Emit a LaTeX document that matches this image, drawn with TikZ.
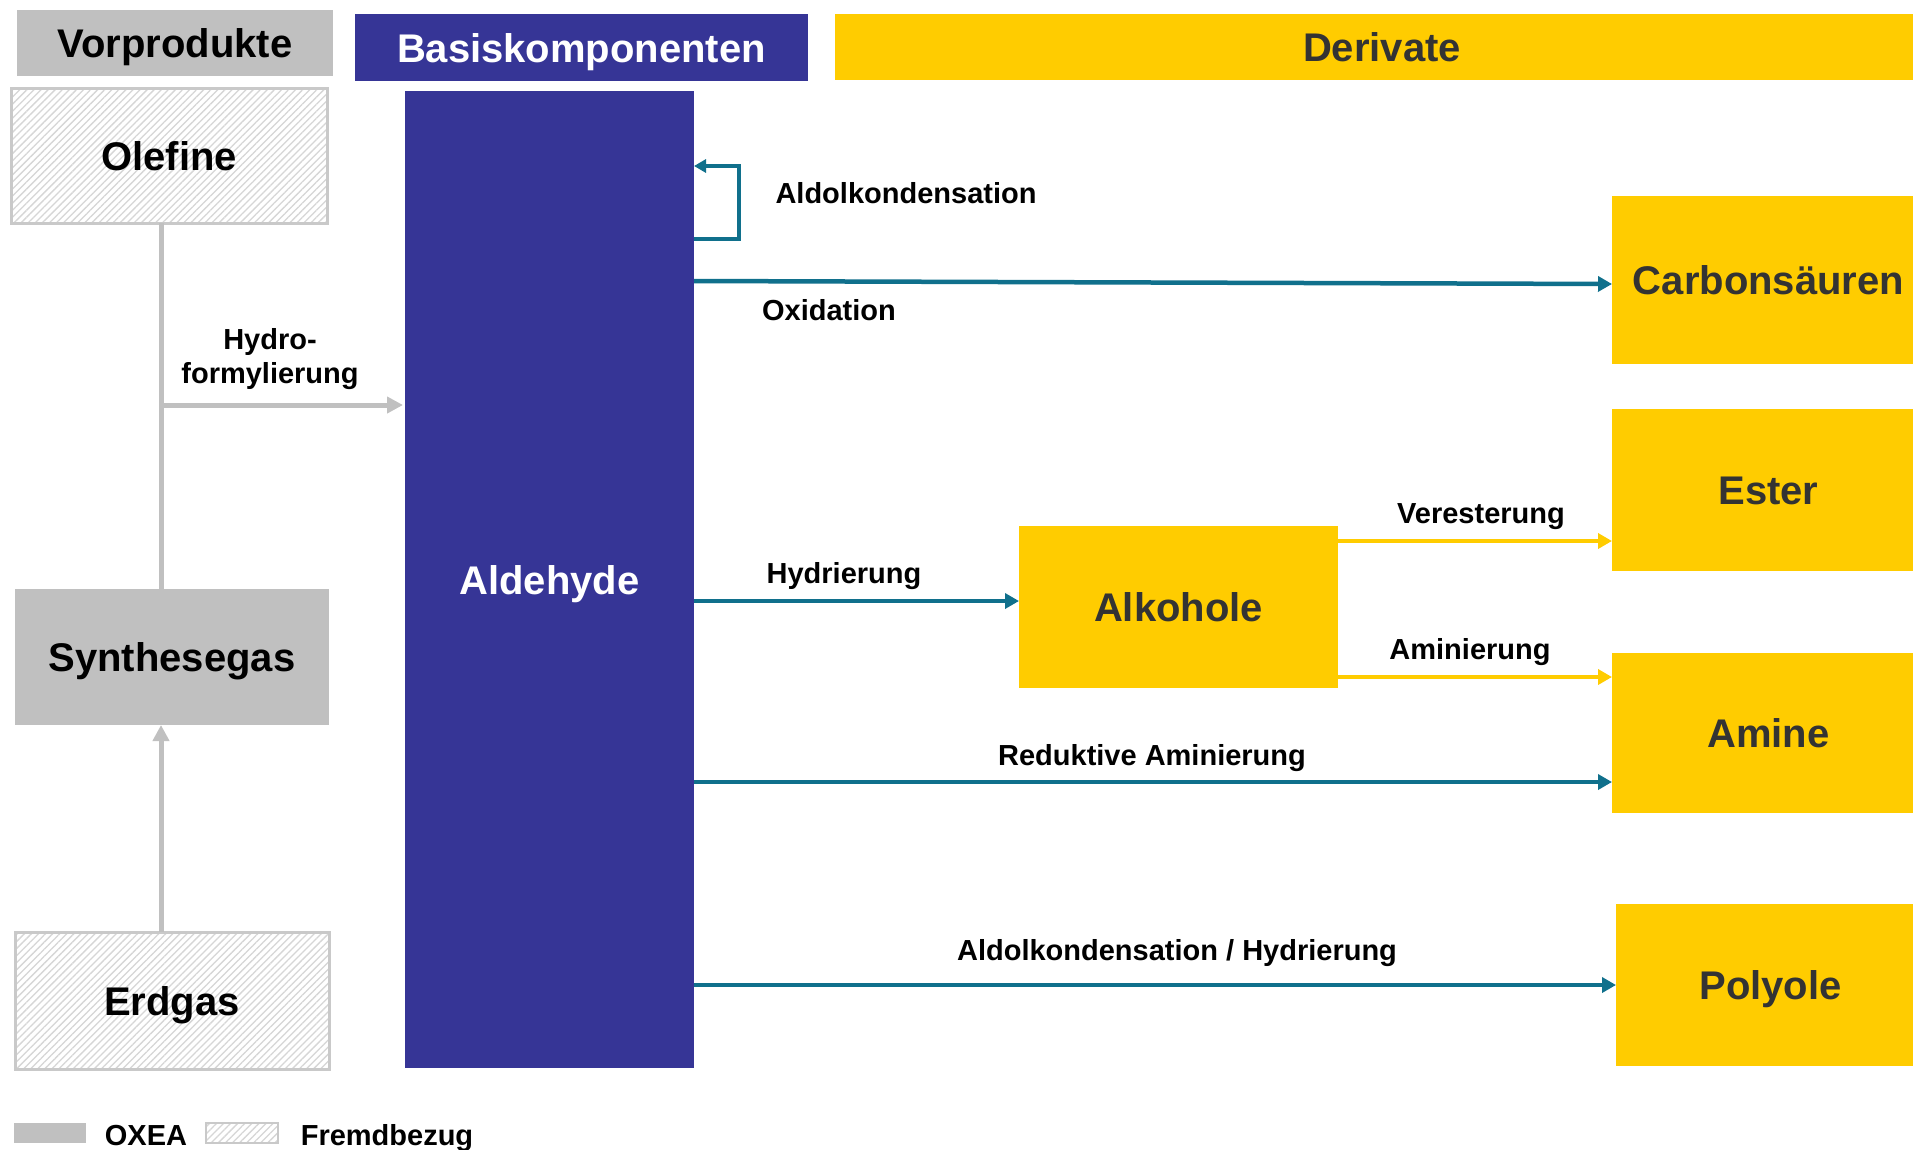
\documentclass[tikz,border=0pt]{standalone}
\usepackage{fontspec}
\setmainfont{Liberation Sans}
\usetikzlibrary{arrows.meta,patterns.meta}
\definecolor{oxblue}{RGB}{54,53,150}
\definecolor{oxyellow}{RGB}{255,204,0}
\definecolor{oxteal}{RGB}{16,112,140}
\definecolor{oxgrey}{RGB}{192,192,192}
\definecolor{oxtext}{RGB}{51,51,51}

\begin{document}
\begin{tikzpicture}[x=1pt,y=1pt,yscale=-1,xscale=1,
  bigfont/.style={font=\fontsize{40}{46}\selectfont\bfseries},
  smallfont/.style={font=\fontsize{29}{34}\selectfont\bfseries},
  box/.style={inner sep=0pt,outer sep=0pt,anchor=center,bigfont,text height=29pt,text depth=0pt},
  greybox/.style={box,fill=oxgrey},
  hatchbox/.style={box,draw=oxgrey!85,line width=3pt,pattern={Lines[angle=45,distance=5pt,line width=1.3pt]},pattern color=oxgrey!65},
  bluebox/.style={box,fill=oxblue,text=white},
  yellowbox/.style={box,fill=oxyellow,text=oxtext},
  legendbox/.style={text height=0pt,text depth=0pt,minimum width=72pt,minimum height=20pt},
  lbl/.style={smallfont,inner sep=0pt,align=center,text depth=0pt},
  tealarrow/.style={draw=oxteal,line width=4.5pt,-{Triangle[length=14pt,width=15pt]}},
  yellowarrow/.style={draw=oxyellow,line width=4.5pt,-{Triangle[length=14pt,width=15pt]}},
  greyline/.style={draw=oxgrey,line width=5pt},
  greyarrow/.style={greyline,-{Triangle[length=16pt,width=16pt]}}]
\useasboundingbox (0,0) rectangle (1913,1149);
\fill [white] (0,0) rectangle (1913,1149);

%Shape: Rectangle headers
\node [greybox,minimum width=316pt,minimum height=66pt] (vorp) at (175,43) {Vorprodukte};
\node [bluebox,minimum width=453pt,minimum height=67pt] (basis) at (581.5,47.5) {Basiskomponenten};
\node [yellowbox,minimum width=1094pt,minimum height=66pt] (deriv) at (1382,47) {Derivate};

%Shape: Rectangle Vorprodukte
\node [hatchbox,minimum width=316pt,minimum height=135pt] (ole) at (169,155.5) {Olefine};
\node [greybox,minimum width=314pt,minimum height=136pt] (syn) at (172,657) {Synthesegas};
\node [hatchbox,minimum width=314pt,minimum height=137pt] (erd) at (172,1000.5) {Erdgas};

%Shape: Rectangle Basiskomponenten
\node [bluebox,minimum width=289pt,minimum height=977pt] (ald) at (549.5,579.5) {Aldehyde};

%Shape: Rectangle Derivate
\node [yellowbox,minimum width=313pt,minimum height=168pt] (carb) at (1768.5,280) {Carbonsäuren};
\node [yellowbox,minimum width=313pt,minimum height=162pt] (ester) at (1768.5,490) {Ester};
\node [yellowbox,minimum width=319pt,minimum height=162pt] (alk) at (1178.5,607) {Alkohole};
\node [yellowbox,minimum width=313pt,minimum height=160pt] (amine) at (1768.5,733) {Amine};
\node [yellowbox,minimum width=309pt,minimum height=162pt] (poly) at (1770.5,985) {Polyole};

%Straight Lines grey
\coordinate (fork) at (161,405);
\draw [greyline] (ole.south -| fork) -- (syn.north -| fork);
\draw [greyarrow] (fork) -- ([xshift=-2pt]ald.west |- fork);
\draw [greyarrow] (erd.north -| fork) -- (syn.south -| fork);

%Straight Lines teal
\draw [draw=oxteal,line width=4pt,-{Triangle[length=12pt,width=13pt]}] (ald.east |- 0,239) -- (739,239) -- (739,166) -- (ald.east |- 0,166);
\draw [tealarrow] (ald.east |- 0,281) -- (carb.west |- 0,284);
\draw [tealarrow] (ald.east |- 0,601) -- (alk.west |- 0,601);
\draw [tealarrow] (ald.east |- 0,782) -- (amine.west |- 0,782);
\draw [tealarrow] (ald.east |- poly.west) -- (poly.west);

%Straight Lines yellow
\draw [yellowarrow] (alk.east |- 0,541) -- (ester.west |- 0,541);
\draw [yellowarrow] (alk.east |- 0,677) -- (amine.west |- 0,677);

% Text Node
\node [lbl] (hydroform) at (270,356) {Hydro-\\formylierung};
% Text Node
\node [lbl] (aldolkond) at (906,193) {Aldolkondensation};
% Text Node
\node [lbl] (oxid) at (829,310) {Oxidation};
% Text Node
\node [lbl] (hydr) at (844,573) {Hydrierung};
% Text Node
\node [lbl] (veres) at (1481,514) {Veresterung};
% Text Node
\node [lbl] (amin) at (1470,649) {Aminierung};
% Text Node
\node [lbl] (redamin) at (1152,755) {Reduktive Aminierung};
% Text Node
\node [lbl] (aldhydr) at (1177,950) {Aldolkondensation / Hydrierung};

%Legend
\node [greybox,legendbox] (legoxea) at (50,1133) {};
\node [lbl] (oxea) at (146,1135) {OXEA};
\node [hatchbox,legendbox,line width=2pt] (legfremd) at (241.5,1133) {};
\node [lbl] (fremd) at (387,1135) {Fremdbezug};

\end{tikzpicture}
\end{document}
